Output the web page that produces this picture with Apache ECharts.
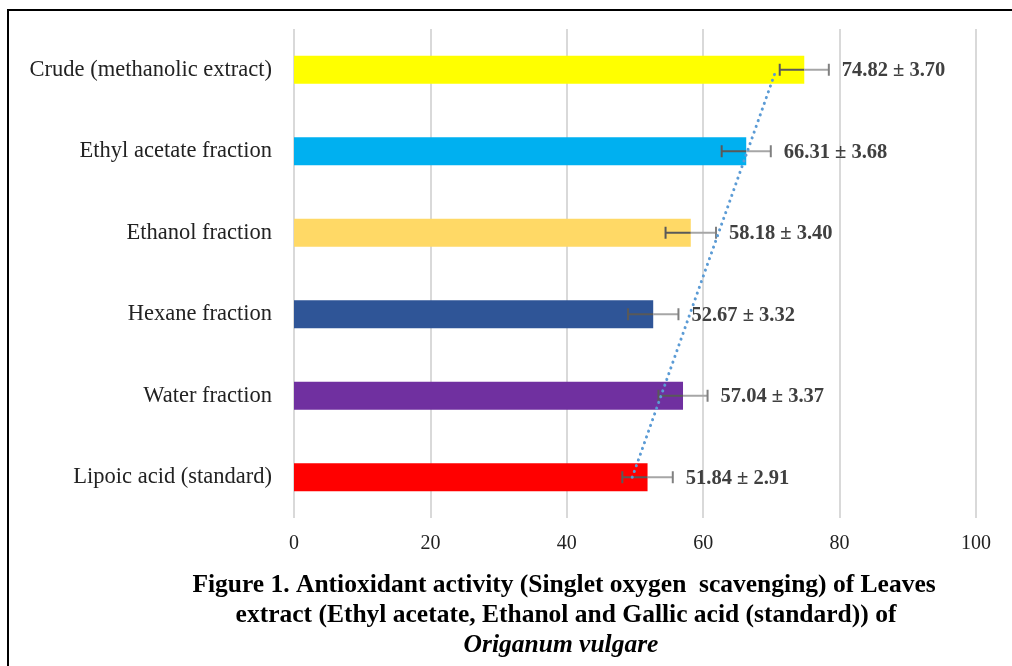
<!DOCTYPE html>
<html>
<head>
<meta charset="utf-8">
<script src="https://cdn.jsdelivr.net/npm/echarts@6/dist/echarts.min.js"></script>
<style>
html,body{margin:0;padding:0;background:#fff;}
#chart{width:1012px;height:666px;}
</style>
</head>
<body>
<div id="chart"></div>
<script>
// Data (top to bottom as shown)
const categories = ['Crude (methanolic extract)', 'Ethyl acetate fraction', 'Ethanol fraction', 'Hexane fraction', 'Water fraction', 'Lipoic acid (standard)'];
const values = [74.82, 66.31, 58.18, 52.67, 57.04, 51.84];
const sdLabels = [3.70, 3.68, 3.40, 3.32, 3.37, 2.91];
const errDrawn = [3.6, 3.6, 3.7, 3.7, 3.6, 3.7];
const barColors = ['#FFFF00', '#00B0F0', '#FFD966', '#2F5597', '#7030A0', '#FF0000'];
const xTicks = [0, 20, 40, 60, 80, 100];
// linear trendline endpoints (bottom category -> top category)
const trendCats = ['Lipoic acid (standard)', 'Crude (methanolic extract)'];
const trendVals = [49.6, 70.7];

const titleLines = ['Figure 1. Antioxidant activity (Singlet oxygen  scavenging) of Leaves', 'extract (Ethyl acetate, Ethanol and Gallic acid (standard)) of', 'Origanum vulgare'];

const chart = echarts.init(document.getElementById('chart'));
const serif = '"Liberation Serif", "Times New Roman", serif';

const errData = categories.map((c, i) => [i, values[i], errDrawn[i], sdLabels[i]]);

const option = {
  animation: false,
  backgroundColor: '#fff',
  grid: { left: 294, right: 36, top: 29, bottom: 148, containLabel: false },
  xAxis: {
    type: 'value', min: 0, max: 100, interval: 20,
    axisLine: { show: false }, axisTick: { show: false },
    splitLine: { show: true, lineStyle: { color: '#D9D9D9', width: 2 } },
    axisLabel: { color: '#222', fontFamily: serif, fontSize: 20, margin: 16,
      formatter: v => xTicks.indexOf(v) >= 0 ? String(v) : '' }
  },
  yAxis: {
    type: 'category', data: categories, inverse: true,
    axisLine: { show: false }, axisTick: { show: false },
    axisLabel: { color: '#222', fontFamily: serif, fontSize: 22.5, margin: 22 }
  },
  series: [
    {
      type: 'bar', barWidth: 28,
      data: values.map((v, i) => ({ value: v, itemStyle: { color: barColors[i] } })),
      z: 2
    },
    {
      type: 'custom',
      z: 5,
      data: errData,
      encode: { x: 1, y: 0 },
      renderItem: function (params, api) {
        const idx = api.value(0);
        const v = api.value(1);
        const e = api.value(2);
        const sd = api.value(3);
        const pc = api.coord([v, idx]);
        const pl = api.coord([v - e, idx]);
        const pr = api.coord([v + e, idx]);
        const y = pc[1];
        const cap = 6;
        const dark = '#595959', light = '#A6A6A6';
        return {
          type: 'group',
          children: [
            { type: 'line', shape: { x1: pl[0], y1: y, x2: pc[0], y2: y }, style: { stroke: dark, lineWidth: 2 } },
            { type: 'line', shape: { x1: pc[0], y1: y, x2: pr[0], y2: y }, style: { stroke: light, lineWidth: 2 } },
            { type: 'line', shape: { x1: pl[0], y1: y - cap, x2: pl[0], y2: y + cap }, style: { stroke: dark, lineWidth: 2 } },
            { type: 'line', shape: { x1: pr[0], y1: y - cap, x2: pr[0], y2: y + cap }, style: { stroke: '#808080', lineWidth: 2 } },
            { type: 'text', x: pr[0] + 13, y: y + 1,
              style: { text: v.toFixed(2) + ' ± ' + sd.toFixed(2), fill: '#404040',
                font: 'bold 20.5px ' + serif, textVerticalAlign: 'middle', verticalAlign: 'middle' } }
          ]
        };
      }
    },
    {
      type: 'line',
      data: trendCats.map((c, i) => [trendVals[i], c]),
      symbol: 'none',
      z: 6,
      lineStyle: { color: '#5B9BD5', width: 3, type: [0.1, 6], cap: 'round' }
    }
  ],
  graphic: [
    { type: 'rect', shape: { x: 8, y: 10, width: 1100, height: 700 }, style: { fill: 'none', stroke: '#000', lineWidth: 2 }, z: 100 },
    { type: 'text', x: 564, y: 585, style: { text: titleLines[0], font: 'bold 25.5px ' + serif, fill: '#000', textAlign: 'center', textVerticalAlign: 'middle', align: 'center', verticalAlign: 'middle' } },
    { type: 'text', x: 566, y: 615, style: { text: titleLines[1], font: 'bold 25.5px ' + serif, fill: '#000', textAlign: 'center', textVerticalAlign: 'middle', align: 'center', verticalAlign: 'middle' } },
    { type: 'text', x: 561, y: 645, style: { text: titleLines[2], font: 'italic bold 25.5px ' + serif, fill: '#000', textAlign: 'center', textVerticalAlign: 'middle', align: 'center', verticalAlign: 'middle' } }
  ]
};
chart.setOption(option);
</script>
</body>
</html>
